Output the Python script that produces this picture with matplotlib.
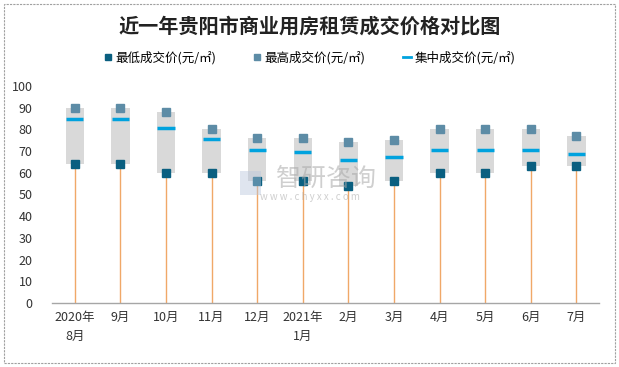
import numpy as np
import matplotlib
matplotlib.use('Agg')
import matplotlib.pyplot as plt
from matplotlib.lines import Line2D
from matplotlib.patches import Rectangle

plt.rcParams['font.family'] = ['Noto Sans CJK SC', 'DejaVu Sans']

# Data
months = ['2020年\n8月', '9月', '10月', '11月', '12月', '2021年\n1月',
          '2月', '3月', '4月', '5月', '6月', '7月']
low_price = [64, 64, 60, 60, 56, 56, 54, 56, 60, 60, 63, 63]
high_price = [90, 90, 88, 80, 76, 76, 74, 75, 80, 80, 80, 77]
mid_price = [85, 85, 80.5, 75.5, 70.5, 69.5, 66, 67.5, 70.5, 70.5, 70.5, 68.5]

low_color = '#0A5F80'
high_color = '#5D8CA6'
mid_color = '#00A2DE'

fig = plt.figure(figsize=(6.19, 3.67), dpi=100)
ax = fig.add_axes([0.084, 0.1744, 0.884, 0.5913])

x = np.arange(len(months))
low = np.array(low_price)
high = np.array(high_price)

# grey range boxes, orange stems from the axis up to the low price
ax.bar(x, high - low, bottom=low, width=0.4, color='#D9D9D9', zorder=1)
ax.vlines(x, 0, low, color='#F0A868', linewidth=1, zorder=2)
ax.hlines(mid_price, x - 0.19, x + 0.19, color=mid_color, linewidth=2.5, zorder=3)
ax.plot(x, low_price, 's', color=low_color, markersize=5.5, zorder=4)
ax.plot(x, high_price, 's', color=high_color, markersize=5.5, zorder=4)

ax.set_xlim(-0.5, len(months) - 0.5)
ax.set_ylim(0, 100)
ax.set_yticks(range(0, 101, 10))
ax.set_xticks(x)
ax.set_xticklabels(months, fontsize=9, color='#333333', linespacing=1.6)
ax.tick_params(axis='y', labelsize=9, colors='#333333', length=0, pad=14)
ax.tick_params(axis='x', length=0, pad=6)
for s in ['top', 'right', 'left']:
    ax.spines[s].set_visible(False)
ax.spines['bottom'].set_color('#A6A6A6')
ax.spines['bottom'].set_linewidth(1)

# watermark (semi-transparent, over the plot like the original)
fig.patches.append(Rectangle((0.388, 0.47), 0.034, 0.065, transform=fig.transFigure,
                             facecolor='#B8C6DC', edgecolor='none', alpha=0.45, zorder=5))
fig.text(0.527, 0.513, '智研咨询', fontsize=18, color='#A8A8A8', alpha=0.55,
         ha='center', va='center', zorder=5)
fig.text(0.5, 0.463, 'w w w . c h y x x . c o m', fontsize=7, color='#A8A8A8', alpha=0.55,
         ha='center', va='center', zorder=5)

fig.suptitle('近一年贵阳市商业用房租赁成交价格对比图', x=0.5, y=0.958,
             fontsize=14.5, fontweight='bold', color='#222222')

handles = [
    Line2D([], [], marker='s', linestyle='none', color=low_color, markersize=5),
    Line2D([], [], marker='s', linestyle='none', color=high_color, markersize=5),
    Line2D([], [], color=mid_color, linewidth=2),
]
labels = ['最低成交价(元/㎡)', '最高成交价(元/㎡)', '集中成交价(元/㎡)']
fig.legend(handles, labels, loc='center', bbox_to_anchor=(0.5, 0.843), ncol=3,
           frameon=False, fontsize=9, handlelength=0.6, handletextpad=0.3,
           columnspacing=3.0)

# dashed outer border
fig.patches.append(Rectangle((0.007, 0.012), 0.986, 0.976, transform=fig.transFigure,
                             fill=False, edgecolor='#A0A0A0', linewidth=0.8,
                             linestyle=(0, (2, 1))))

fig.savefig('out.png', dpi=100)
